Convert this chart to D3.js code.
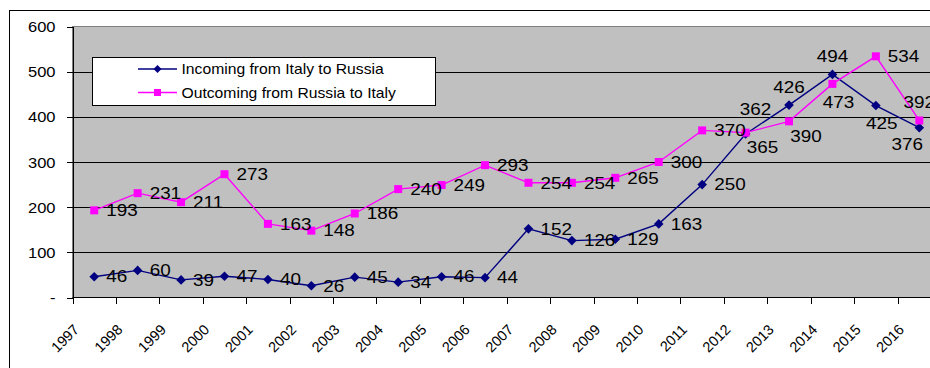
<!DOCTYPE html>
<html>
<head>
<meta charset="utf-8">
<script src="https://cdn.jsdelivr.net/npm/d3@7"></script>
<style>
  body { margin: 0; background: #fff; }
  svg { display: block; }
  text { font-family: "Liberation Sans", Arial, sans-serif; fill: #000; }
</style>
</head>
<body>
<svg id="chart"></svg>
<script>
var years = ["1997", "1998", "1999", "2000", "2001", "2002", "2003", "2004", "2005", "2006",
             "2007", "2008", "2009", "2010", "2011", "2012", "2013", "2014", "2015", "2016"];
var incoming = [46, 60, 39, 47, 40, 26, 45, 34, 46, 44, 152, 126, 129, 163, 250, 362, 426, 494, 425, 376];
var outcoming = [193, 231, 211, 273, 163, 148, 186, 240, 249, 293, 254, 254, 265, 300, 370, 365, 390, 473, 534, 392];
var yTicks = [0, 100, 200, 300, 400, 500, 600];
var seriesNames = ["Incoming from Italy to Russia", "Outcoming from Russia to Italy"];

// where each value label sits relative to its point
var incomingLabelPos = ["r", "r", "r", "r", "r", "r", "r", "r", "r", "r",
                        "r", "r", "r", "r", "r", "tr", "t", "t", "b", "bl"];
var outcomingLabelPos = ["r", "r", "r", "r", "r", "r", "r", "r", "r", "r",
                         "r", "r", "r", "r", "r", "br", "br", "b", "r", "t"];

(function() {
    var width = 930, height = 368;
    var plotLeft = 72.5, plotTop = 26.5, plotBottom = 297.5, plotRight = 941;
    var stretch = 1.18;   // the source picture is a bit wider than tall

    var svg = d3.select("#chart").attr("width", width).attr("height", height);

    // outer chart border
    svg.append("rect")
        .attr("x", 9.5).attr("y", 10.5)
        .attr("width", 1000).attr("height", 400)
        .attr("fill", "none").attr("stroke", "#000");

    var x = d3.scaleBand().domain(years).range([plotLeft, plotRight]);
    var bw = x.bandwidth();
    var xTick = d3.scalePoint().domain(years).range([plotLeft, plotLeft + bw * (years.length - 1)]);
    var y = d3.scaleLinear().domain([0, 600]).range([plotBottom, plotTop]);
    var cx = function(i) { return x(years[i]) + bw / 2; };

    // plot area
    svg.append("rect")
        .attr("x", plotLeft).attr("y", plotTop)
        .attr("width", plotRight - plotLeft).attr("height", plotBottom - plotTop)
        .attr("fill", "#c0c0c0").attr("stroke", "#808080");

    svg.selectAll("line.grid")
        .data(yTicks.filter(function(d) { return d > 0 && d < 600; }))
        .enter().append("line")
        .attr("class", "grid")
        .attr("x1", plotLeft).attr("x2", plotRight)
        .attr("y1", function(d) { return Math.round(y(d)) + 0.5; })
        .attr("y2", function(d) { return Math.round(y(d)) + 0.5; })
        .attr("stroke", "#000").attr("stroke-width", 1)
        .attr("shape-rendering", "crispEdges");

    // y axis
    var yAxis = svg.append("g")
        .attr("transform", "translate(" + plotLeft + ",0)")
        .call(d3.axisLeft(y).tickValues(yTicks).tickSize(6).tickSizeOuter(0).tickPadding(11)
            .tickFormat(function(d) { return d === 0 ? "-" : d; }));
    yAxis.selectAll("path, line").attr("stroke", "#000").attr("shape-rendering", "crispEdges");
    yAxis.selectAll("text")
        .style("font-family", "Liberation Sans, Arial, sans-serif")
        .attr("font-size", 14)
        .attr("fill", "#000")
        .attr("x", -17 / stretch)
        .attr("dy", "0.36em")
        .attr("transform", "scale(" + stretch + ",1)");

    // x axis
    var xAxis = svg.append("g")
        .attr("transform", "translate(0," + plotBottom + ")")
        .call(d3.axisBottom(xTick).tickSize(6).tickSizeOuter(0));
    xAxis.select(".domain").remove();
    xAxis.selectAll("line").attr("stroke", "#000").attr("shape-rendering", "crispEdges");
    xAxis.selectAll("text")
        .style("font-family", "Liberation Sans, Arial, sans-serif")
        .attr("font-size", 14.5)
        .attr("fill", "#000")
        .attr("y", 0).attr("dy", 0)
        .attr("text-anchor", "end")
        .attr("transform", "translate(7,33) rotate(-45)");
    svg.append("line")
        .attr("x1", plotLeft).attr("x2", plotRight)
        .attr("y1", plotBottom).attr("y2", plotBottom)
        .attr("stroke", "#000");

    // series
    var series = [
        { name: seriesNames[0], values: incoming, pos: incomingLabelPos, color: "#000080", marker: "diamond" },
        { name: seriesNames[1], values: outcoming, pos: outcomingLabelPos, color: "#ff00ff", marker: "square" }
    ];

    var markerPath = function(kind) {
        if (kind === "diamond") return "M0,-4.8L4.8,0L0,4.8L-4.8,0Z";
        return "M-4,-4H4V4H-4Z";
    };

    var line = d3.line()
        .x(function(d, i) { return cx(i); })
        .y(function(d) { return y(d); });

    var layers = svg.selectAll("g.series")
        .data(series)
        .enter().append("g")
        .attr("class", "series");

    layers.append("path")
        .attr("d", function(s) { return line(s.values); })
        .attr("fill", "none")
        .attr("stroke", function(s) { return s.color; })
        .attr("stroke-width", 1.4);

    layers.each(function(s) {
        d3.select(this).selectAll("path.marker")
            .data(s.values)
            .enter().append("path")
            .attr("class", "marker")
            .attr("d", markerPath(s.marker))
            .attr("transform", function(d, i) { return "translate(" + cx(i) + "," + y(d) + ")"; })
            .attr("fill", s.color);
    });

    // value labels
    var labelOffset = {
        r:  { dx: 12, dy: 0, anchor: "start" },
        t:  { dx: 0, dy: -18, anchor: "middle" },
        tr: { dx: 10, dy: -25, anchor: "middle" },
        b:  { dx: 6, dy: 18, anchor: "middle" },
        br: { dx: 17, dy: 15, anchor: "middle" },
        bl: { dx: -12, dy: 17, anchor: "middle" }
    };

    series.forEach(function(s) {
        svg.append("g").selectAll("text")
            .data(s.values)
            .enter().append("text")
            .attr("font-size", 16)
            .attr("text-anchor", function(d, i) { return labelOffset[s.pos[i]].anchor; })
            .attr("dy", "0.36em")
            .attr("transform", function(d, i) {
                var o = labelOffset[s.pos[i]];
                return "translate(" + (cx(i) + o.dx) + "," + (y(d) + o.dy) + ") scale(" + stretch + ",1)";
            })
            .text(function(d) { return d; });
    });

    // legend
    var legend = svg.append("g").attr("transform", "translate(92.5,57.5)");
    legend.append("rect")
        .attr("width", 343).attr("height", 48)
        .attr("fill", "#fff").attr("stroke", "#000");

    var items = legend.selectAll("g.item")
        .data(series)
        .enter().append("g")
        .attr("class", "item")
        .attr("transform", function(d, i) { return "translate(0," + (11.5 + i * 23.5) + ")"; });

    items.append("line")
        .attr("x1", 45.5).attr("x2", 84.5)
        .attr("stroke", function(d) { return d.color; })
        .attr("stroke-width", 1.4);
    items.append("path")
        .attr("d", function(d) { return d.marker === "diamond" ? "M0,-4L4,0L0,4L-4,0Z" : "M-3.5,-3.5H3.5V3.5H-3.5Z"; })
        .attr("transform", "translate(65,0)")
        .attr("fill", function(d) { return d.color; });
    items.append("text")
        .attr("font-size", 14)
        .attr("dy", "0.36em")
        .attr("transform", "translate(89,0) scale(" + (stretch * 0.95) + ",1)")
        .text(function(d) { return d.name; });
})();
</script>
</body>
</html>
